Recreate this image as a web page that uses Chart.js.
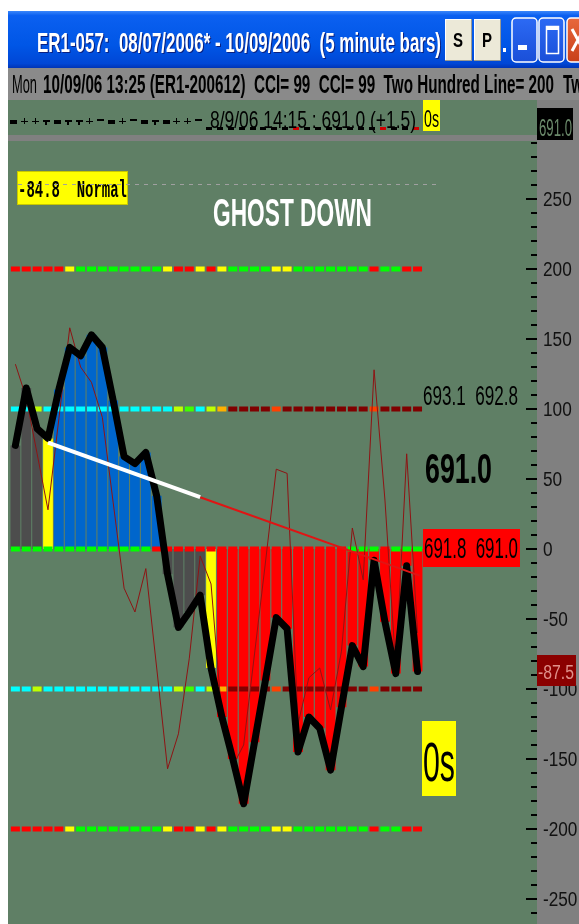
<!DOCTYPE html>
<html>
<head>
<meta charset="utf-8">
<script src="https://cdn.jsdelivr.net/npm/chart.js@4.4.0/dist/chart.umd.min.js"></script>
<style>
  html, body { margin: 0; padding: 0; background: #fff; overflow: hidden; }
  canvas { display: block; }
</style>
</head>
<body>
<canvas id="cci" width="579" height="924"></canvas>
<script>
// 5 minute bars, last one 13:25
const bars = ['10:20', '10:25', '10:30', '10:35', '10:40', '10:45', '10:50', '10:55', '11:00', '11:05',
  '11:10', '11:15', '11:20', '11:25', '11:30', '11:35', '11:40', '11:45', '11:50', '11:55',
  '12:00', '12:05', '12:10', '12:15', '12:20', '12:25', '12:30', '12:35', '12:40', '12:45',
  '12:50', '12:55', '13:00', '13:05', '13:10', '13:15', '13:20', '13:25'];

// CCI (thick line + histogram)
const cci = [74, 115, 86, 79, 114, 144, 138, 153, 144, 106,
  66, 61, 69, 38, -18, -56, -45, -33, -85, -120,
  -150, -182, -138, -94, -49, -57, -145, -120, -128, -158,
  -113, -69, -84, -8, -52, -89, -12, -87.5];

// turbo CCI (thin line)
const tcci = [132, 108, 68, 28, 93, 158, 130, 119, 94, 33,
  -28, -45, -14, -85, -157, -132, -78, -5, -25, -120,
  -155, -140, -75, -10, 57, 54, -125, -92, -85, -115,
  -73, 15, -22, 128, 35, -85, 68, -60];

// histogram state per bar: N neutral, Y turn, B up trend, R down trend
const barState = 'NNNYBBBBBBBBBBNNNNYRRRRRRRRRRRRRRRRRRR';

// trend line (white part, then red extension)
const trendX = [3, 17, 37.2];
const trendY = [76, 37, -19];

// signal rows drawn on the +-200, +-100 and zero lines
const signalLevels = [200, 100, 0, -100, -200];
const row200 = 'RRRRRYGGGGGGGGYRRYRYGGGGYYGGGGGGGRGGRR';
const row100 = 'CCLCCCCCCCCCCCCLVCLODDDDEDDDDDDDDEDDDD';
const row0 = 'GGGGGGGGGGGGGRRRRRRRRRRRRRRRRRRGGGRGGG';
const signalRows = [row200, row100, row0, row100, row200];

// mini tape in the top strip
const tapeMarks = 'bpptbttpdbpdbtbppduuuuuuuuruuuuuuuruur';

const yTicks = [250, 200, 150, 100, 50, 0, -50, -100, -150, -200, -250];

const titleText = 'ER1-057:  08/07/2006* - 10/09/2006  (5 minute bars)';
const statusText = '10/09/06 13:25 (ER1-200612)  CCI= 99  CCI= 99  Two Hundred Line= 200';
const stripText = '8/9/06 14:15 : 691.0 (+1.5)';
const modeText = '-84.8  Normal';
const patternText = 'GHOST DOWN';
const hiLoText = '693.1  692.8';
const lastText = '691.0';
const boxText = '691.8  691.0';
const timerText = '0s';

const GREEN = '#5f7f65';
const SANS = '"Liberation Sans", Arial, sans-serif';
const barColors = { N: '#4d4d4d', Y: '#ffff00', B: '#0066cc', R: '#ff0000' };
const signalColors = { R: '#ff0000', Y: '#ffff00', G: '#00ff00', C: '#00ffff', L: '#bfff00',
  V: '#40ff00', O: '#ffb000', D: '#800000', E: '#ff4000' };

function drawText(ctx, str, x, base, o) {
  ctx.save();
  ctx.font = (o.weight || 'normal') + ' ' + o.size + 'px ' + (o.family || SANS);
  const sx = o.width ? o.width / ctx.measureText(str).width : (o.sx || 1);
  if (o.shadow) {
    ctx.shadowColor = o.shadow;
    ctx.shadowOffsetX = 1;
    ctx.shadowOffsetY = 1;
  }
  ctx.translate(x, base);
  ctx.scale(sx, 1);
  ctx.fillStyle = o.color || '#000';
  ctx.textAlign = 'left';
  ctx.textBaseline = 'alphabetic';
  ctx.fillText(str, 0, 0);
  ctx.restore();
  return sx;
}

function rrect(ctx, x, y, w, h, r) {
  ctx.beginPath();
  ctx.moveTo(x + r, y);
  ctx.arcTo(x + w, y, x + w, y + h, r);
  ctx.arcTo(x + w, y + h, x, y + h, r);
  ctx.arcTo(x, y + h, x, y, r);
  ctx.arcTo(x, y, x + w, y, r);
  ctx.closePath();
}

// window chrome and panel backgrounds
const chromePlugin = {
  id: 'chrome',
  beforeDraw(chart) {
    const ctx = chart.ctx;
    ctx.save();
    ctx.fillStyle = '#fff';
    ctx.fillRect(0, 0, 579, 924);

    // title bar
    const g = ctx.createLinearGradient(0, 11, 0, 68);
    g.addColorStop(0, '#3a86fa');
    g.addColorStop(0.08, '#0b60f0');
    g.addColorStop(0.6, '#0056e6');
    g.addColorStop(0.92, '#0047d6');
    g.addColorStop(1, '#0034b4');
    ctx.fillStyle = g;
    ctx.fillRect(8, 11, 571, 57);
    drawText(ctx, titleText, 37, 52, { size: 28, weight: 'bold', width: 404, color: '#fff', shadow: '#0a2080' });

    // S / P buttons
    [[445, 'S'], [474, 'P']].forEach(([bx, t]) => {
      ctx.fillStyle = '#ece9d8';
      ctx.fillRect(bx, 19, 27, 42);
      ctx.fillStyle = '#fff';
      ctx.fillRect(bx, 19, 27, 1);
      ctx.fillRect(bx, 19, 1, 42);
      ctx.fillStyle = '#9a9a90';
      ctx.fillRect(bx, 60, 27, 1);
      ctx.fillRect(bx + 26, 19, 1, 42);
      drawText(ctx, t, bx + 8, 47, { size: 20, weight: 'bold', width: 10, color: '#000' });
    });
    ctx.fillStyle = '#fff';
    ctx.fillRect(503, 48, 3, 4);

    // minimize / maximize / close
    [[512, '#2c6af4', '#1a4fd8'], [539, '#2c6af4', '#1a4fd8'], [567, '#e8683c', '#c8401a']].forEach(([bx, c1, c2]) => {
      const bg = ctx.createLinearGradient(0, 18, 0, 62);
      bg.addColorStop(0, c1);
      bg.addColorStop(1, c2);
      rrect(ctx, bx, 18, 25, 44, 4);
      ctx.fillStyle = bg;
      ctx.fill();
      ctx.strokeStyle = '#fff';
      ctx.lineWidth = 1.5;
      ctx.stroke();
    });
    ctx.fillStyle = '#fff';
    ctx.fillRect(518, 45, 9, 5);
    ctx.strokeStyle = '#fff';
    ctx.lineWidth = 1.5;
    ctx.strokeRect(546.5, 26.5, 12, 27);
    ctx.fillRect(546, 26, 13, 4);
    ctx.lineWidth = 3;
    ctx.beginPath();
    ctx.moveTo(572, 29); ctx.lineTo(584, 51);
    ctx.moveTo(584, 29); ctx.lineTo(572, 51);
    ctx.stroke();

    // status line
    ctx.fillStyle = '#8a8a8a';
    ctx.fillRect(8, 68, 571, 32);
    drawText(ctx, 'Mon', 12, 93, { size: 26, width: 25, color: '#000' });
    const sx = drawText(ctx, statusText, 43, 93, { size: 26, weight: 'bold', width: 511, color: '#000' });
    drawText(ctx, 'Two Hundred Line= -200', 563, 93, { size: 26, weight: 'bold', sx: sx, color: '#000' });

    // top strip, separator, plot and axis panel
    ctx.fillStyle = GREEN;
    ctx.fillRect(8, 100, 529, 35);
    ctx.fillStyle = '#808080';
    ctx.fillRect(8, 135, 529, 6);
    ctx.fillRect(537, 100, 42, 824);
    ctx.fillStyle = GREEN;
    ctx.fillRect(8, 141, 529, 783);
    ctx.restore();
  },
  afterDraw(chart) {
    const ctx = chart.ctx;
    const xs = chart.scales.x;
    const ys = chart.scales.y;
    ctx.save();

    // mini tape
    tapeMarks.split('').forEach((m, i) => {
      const cx = Math.round(xs.getPixelForValue(i)) - 2;
      ctx.fillStyle = m === 'r' ? '#d00000' : '#000';
      if (m === 'b') ctx.fillRect(cx - 3, 120, 7, 4);
      else if (m === 'p') { ctx.fillRect(cx - 3, 121, 7, 1); ctx.fillRect(cx, 118, 1, 6); }
      else if (m === 't') { ctx.fillRect(cx - 3, 120, 7, 2); ctx.fillRect(cx - 1, 122, 2, 3); }
      else if (m === 'd') ctx.fillRect(cx - 3, 119, 7, 2);
      else ctx.fillRect(cx - 3, 127, 6, 3);
    });
    drawText(ctx, stripText, 210, 128, { size: 24, width: 206, color: '#000' });
    ctx.fillStyle = '#ffff00';
    ctx.fillRect(423, 100, 17, 31);
    drawText(ctx, timerText, 424, 127, { size: 24, width: 15, color: '#000' });
    ctx.fillStyle = '#000';
    ctx.fillRect(537, 108, 36, 32);
    drawText(ctx, lastText, 539, 136, { size: 24, width: 33, color: '#6b8a6b' });

    // mode box and dotted line
    ctx.fillStyle = '#ffff00';
    ctx.fillRect(17, 171, 111, 34);
    ctx.strokeStyle = '#c8c800';
    ctx.lineWidth = 1;
    ctx.strokeRect(17.5, 171.5, 110, 33);
    drawText(ctx, modeText, 18, 197, { size: 24, weight: 'bold', family: '"Liberation Mono", monospace', width: 109, color: '#000' });
    const dy = Math.round(ys.getPixelForValue(261)) + 0.5;
    ctx.strokeStyle = '#a0a0a0';
    ctx.setLineDash([4, 5]);
    ctx.beginPath();
    ctx.moveTo(18, dy);
    ctx.lineTo(440, dy);
    ctx.stroke();
    ctx.setLineDash([]);

    drawText(ctx, patternText, 213, 226, { size: 38, weight: 'bold', width: 159, color: '#fff' });

    // price labels at the right
    drawText(ctx, hiLoText, 423, 405, { size: 28, width: 95, color: '#000' });
    drawText(ctx, lastText, 425, 483, { size: 43, weight: 'bold', width: 67, color: '#000' });
    ctx.fillStyle = '#ff0000';
    ctx.fillRect(423, 529, 97, 38);
    drawText(ctx, boxText, 424, 558, { size: 29, width: 94, color: '#000' });
    ctx.fillStyle = '#ffff00';
    ctx.fillRect(422, 721, 34, 75);
    drawText(ctx, timerText, 423, 781, { size: 55, width: 32, color: '#000' });

    // y axis ticks and labels
    ctx.fillStyle = '#000';
    for (let v = -260; v <= 290; v += 10) {
      const py = Math.round(ys.getPixelForValue(v));
      const major = v % 50 === 0;
      ctx.fillRect(major ? 526 : 531, py - 1, major ? 11 : 6, 2);
    }
    ys.ticks.forEach(t => {
      const py = ys.getPixelForValue(t.value);
      drawText(ctx, String(t.value), 543, py + 7, { size: 20, sx: 0.86, color: '#111' });
    });
    const last = cci[cci.length - 1];
    const ly = Math.round(ys.getPixelForValue(last));
    ctx.fillStyle = '#8b0000';
    ctx.fillRect(537, ly - 16, 39, 31);
    drawText(ctx, last.toFixed(1), 538, ly + 8, { size: 20, width: 36, color: '#e0908a' });
    ctx.restore();
  }
};

const pts = arr => arr.map((v, i) => ({ x: i, y: v }));

const signalSets = signalLevels.map((lvl, r) => ({
  type: 'line',
  label: 'signal ' + lvl,
  data: signalRows[r].split('').map((c, i) => ({ x: i, y: lvl })),
  showLine: false,
  pointStyle: 'line',
  pointRadius: 4.5,
  pointBorderWidth: 5,
  pointBorderColor: signalRows[r].split('').map(c => signalColors[c]),
  pointBackgroundColor: 'transparent',
  order: 6
}));

const chart = new Chart(document.getElementById('cci'), {
  type: 'bar',
  data: {
    labels: bars,
    datasets: [
      {
        type: 'line', label: 'trend',
        data: [{ x: trendX[0], y: trendY[0] }, { x: trendX[1], y: trendY[1] }],
        borderColor: '#ffffff', borderWidth: 4, pointRadius: 0, order: 1
      },
      {
        type: 'line', label: 'trend ext',
        data: [{ x: trendX[1], y: trendY[1] }, { x: trendX[2], y: trendY[2] }],
        borderColor: '#e01414', borderWidth: 2, pointRadius: 0, order: 2
      },
      {
        type: 'line', label: 'CCI', data: pts(cci),
        borderColor: '#000', borderWidth: 7, pointRadius: 0,
        borderJoinStyle: 'round', borderCapStyle: 'round', order: 3
      },
      {
        type: 'line', label: 'TCCI', data: pts(tcci),
        borderColor: '#8e1414', borderWidth: 1, pointRadius: 0, order: 4
      },
      ...signalSets,
      {
        type: 'bar', label: 'CCI histogram', data: pts(cci),
        backgroundColor: barState.split('').map(c => barColors[c]),
        barPercentage: 1, categoryPercentage: 0.9, order: 10
      }
    ]
  },
  options: {
    responsive: false,
    devicePixelRatio: 1,
    animation: false,
    events: [],
    layout: { autoPadding: false, padding: { left: 8, top: 141, right: 0, bottom: 0 } },
    plugins: { legend: { display: false }, tooltip: { enabled: false } },
    scales: {
      x: {
        type: 'linear', min: -0.68, max: 47.99, offset: false, display: false,
        grid: { display: false, offset: false }
      },
      y: {
        position: 'right', min: -267.86, max: 291.43,
        grid: { display: false }, border: { display: false },
        ticks: { display: false },
        afterBuildTicks: s => { s.ticks = yTicks.map(v => ({ value: v })); },
        afterFit: s => { s.width = 42; s.paddingTop = 0; s.paddingBottom = 0; }
      }
    }
  },
  plugins: [chromePlugin]
});
</script>
</body>
</html>
